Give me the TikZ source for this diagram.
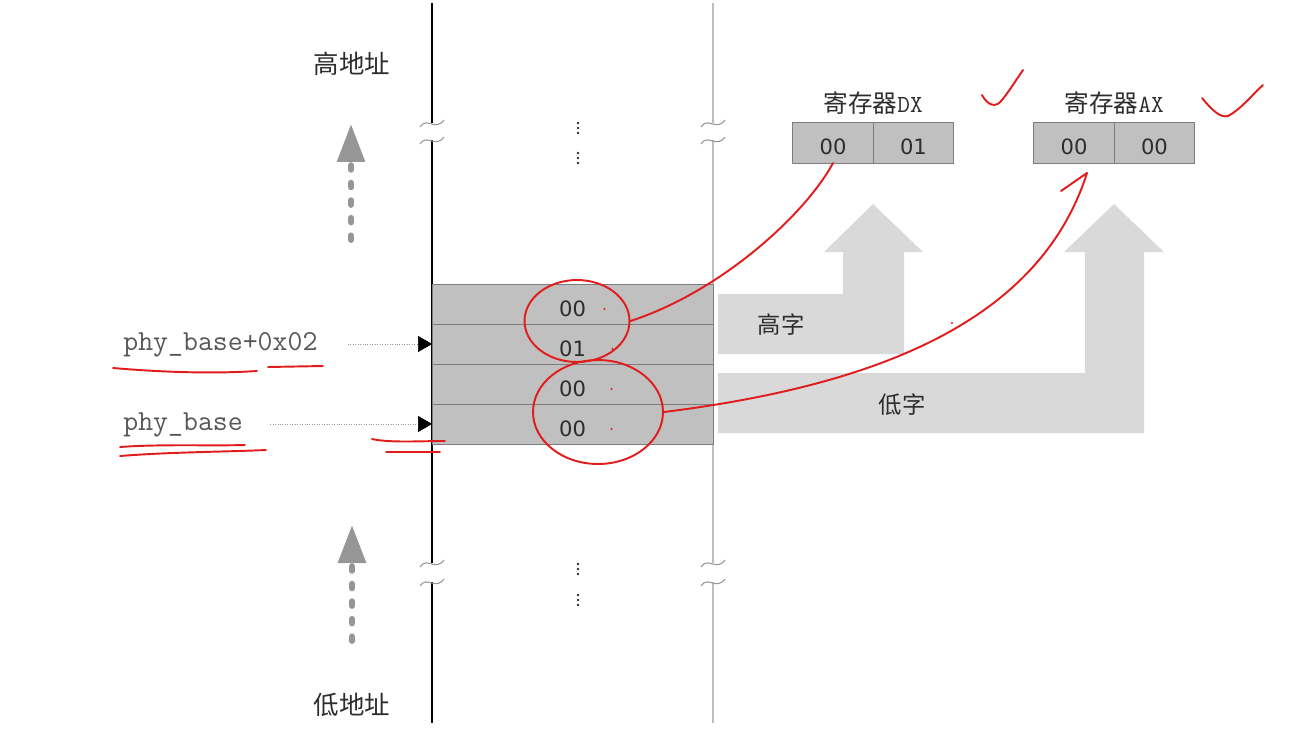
\documentclass[tikz,border=0pt]{standalone}
\usepackage{fontspec}
\newfontfamily\cjkfont{Noto Sans CJK SC}
\newfontfamily\digitfont{DejaVu Sans}
\usetikzlibrary{arrows.meta,positioning,shapes.geometric}
\definecolor{memGray}{RGB}{192,192,192}
\definecolor{memEdge}{RGB}{125,125,125}
\definecolor{flowGray}{RGB}{217,217,217}
\definecolor{hintGray}{RGB}{150,150,150}
\definecolor{railGray}{RGB}{190,190,190}
\definecolor{inkRed}{RGB}{225,28,28}
\definecolor{textDark}{RGB}{45,45,45}

\begin{document}
\begin{tikzpicture}[
  x=0.02cm, y=-0.02cm,
  cell/.style={
    draw=memEdge,
    fill=memGray,
    minimum width=5.62cm,
    minimum height=0.8cm,
    inner sep=0pt,
    outer sep=0pt,
    text height=14pt,
    text depth=0pt,
    text=textDark,
    font=\digitfont\fontsize{12}{13}\selectfont
  },
  reg/.style={cell,minimum width=1.61cm,minimum height=0.82cm},
  addr/.style={anchor=west,inner sep=0pt,text=textDark!80,
    font=\ttfamily\fontsize{16.5}{18}\selectfont},
  cjktext/.style={inner sep=0pt,text=textDark,font=\cjkfont\fontsize{#1}{#1}\selectfont},
  ptr/.style={densely dotted,hintGray,-{Triangle[black,length=0.28cm,width=0.32cm]}},
  rail/.style={line width=0.8pt},
  wave/.pic={\draw[hintGray,line width=0.6pt] (-12,4) .. controls (-5,-7) and (3,9) .. (12,-3);},
  upflow/.style={hintGray,line width=3.4pt,line cap=round,dash pattern=on 2.6pt off 7.4pt,
    -{Triangle[length=0.76cm,width=0.54cm]}},
  flow/.style={fill=flowGray},
  ink/.style={draw=inkRed,line width=1.1pt,line cap=round,line join=round},
  ring/.style={ink,ellipse,inner sep=0pt}
]
  \useasboundingbox (0,0) rectangle (1311,748);

  \draw[rail] (432,3) -- (432,123) (432,140) -- (432,563) (432,582) -- (432,723);
  \draw[rail,railGray,line width=1.3pt] (713,3) -- (713,123) (713,140) -- (713,563) (713,582) -- (713,723);
  \foreach \x in {432,713}
    \foreach \y in {123,140,563,582}
      \pic at (\x,\y) {wave};
  \foreach \y in {128,158,569,600}
    \foreach \d in {-5,0,5}
      \fill[textDark] (578,\y+\d) circle (0.8pt);

  \fill[flow] (718,294) -- (843,294) -- (843,252) -- (824,252) -- (873,204) -- (923,252)
    -- (904,252) -- (904,354) -- (718,354) -- cycle;
  \fill[flow] (718,373) -- (1085,373) -- (1085,252) -- (1064,252) -- (1114,204) -- (1164,252)
    -- (1144,252) -- (1144,433) -- (718,433) -- cycle;
  \node[cjktext=13.3] (hiword) at (781,325) {高字};
  \node[cjktext=13.3] (loword) at (902,405) {低字};

  \node[cell] (m3) at (572.5,304) {00};
  \node[cell,below=0pt of m3] (m2) {01};
  \node[cell,below=0pt of m2] (m1) {00};
  \node[cell,below=0pt of m1] (m0) {00};

  \node[addr] (hiptr) at (123,345) {phy\_base+0x02};
  \node[addr] (loptr) at (123,425) {phy\_base};
  \draw[ptr] ([xshift=0.6cm]hiptr.east |- m2.west) -- (m2.west);
  \draw[ptr] ([xshift=0.54cm]loptr.east |- m0.west) -- (m0.west);

  \node[cjktext=14.5] (hiaddr) at (352,64) {高地址};
  \node[cjktext=14.5] (loaddr) at (352,705) {低地址};
  \coordinate (hiTail) at (351,240);
  \coordinate (hiTip) at (351,124);
  \coordinate (loTail) at (352,641);
  \coordinate (loTip) at (352,525);
  \draw[upflow] (hiTail) -- (hiTip);
  \draw[upflow] (loTail) -- (loTip);

  \node[reg] (dxhi) at (833,142.5) {00};
  \node[reg,right=0pt of dxhi] (dxlo) {01};
  \node[reg] (axhi) at (1074,142.5) {00};
  \node[reg,right=0pt of axhi] (axlo) {00};
  \node[cjktext=14,above=0.14cm of dxhi.north east] (dxname) {寄存器{\ttfamily DX}};
  \node[cjktext=14,above=0.14cm of axhi.north east] (axname) {寄存器{\ttfamily AX}};

  \node[ring,minimum width=2.1cm,minimum height=1.64cm] (ringHi) at (577,321) {};
  \node[ring,minimum width=2.6cm,minimum height=2.08cm] (ringLo) at (598,412) {};
  \draw[ink] (dxhi.south) .. controls (805,215) and (720,292) .. (ringHi.east);
  \draw[ink] (ringLo.east) .. controls (880,385) and (1040,320) .. ([shift={(13,10)}]axhi.south)
    -- ([shift={(-13,28)}]axhi.south);
  \draw[ink] (982,95) .. controls (988,106) and (996,108) .. (1002,100)
    .. controls (1010,90) and (1016,80) .. (1023,70);
  \draw[ink] (1202,98) .. controls (1212,110) and (1220,118) .. (1228,116)
    .. controls (1240,110) and (1252,95) .. (1263,85);
  \draw[ink] (113,368) .. controls (160,372) and (210,374) .. (257,371);
  \draw[ink] (268,367) -- (323,366);
  \draw[ink] (120,447) .. controls (160,444) and (210,446) .. (245,445);
  \draw[ink] (120,456) .. controls (170,452) and (220,452) .. (266,450);
  \draw[ink] (372,439) .. controls (390,443) and (420,441) .. (445,441);
  \draw[ink] (386,452) -- (440,452);
  \foreach \c/\dx in {m3/32,m2/40,m1/39,m0/39}
    \fill[inkRed] ([shift={(\dx,5)}]\c.center) circle (0.6pt);
  \fill[inkRed] (952,323) circle (0.6pt);
\end{tikzpicture}
\end{document}
